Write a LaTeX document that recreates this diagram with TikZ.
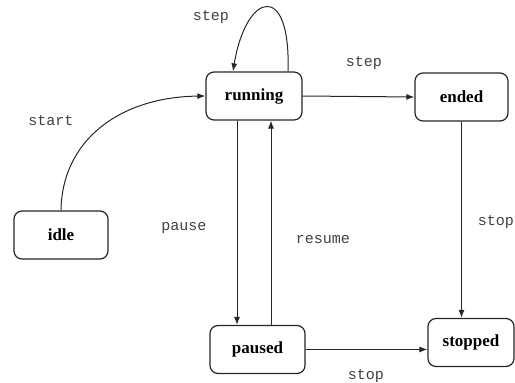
\documentclass[tikz,border=0pt]{standalone}
\usepackage{fontspec}
\setmainfont{Liberation Serif}
\setmonofont{Liberation Mono}
\usetikzlibrary{arrows.meta}
\tikzset{
  state/.style={draw=black!85, line width=1.2pt, rounded corners=8pt, fill=white,
    minimum height=48pt, inner sep=0pt, font=\fontsize{17}{20}\selectfont\bfseries},
  trans/.style={draw=black!85, line width=1pt, -{Latex[length=8pt,width=6pt]}},
  lbl/.style={font=\fontsize{15}{18}\selectfont\ttfamily, text=black!75}
}
\begin{document}
\begin{tikzpicture}[x=1pt,y=-1pt]
\useasboundingbox (0,0) rectangle (515,383);
% states
\node[state, minimum width=96pt] (running) at (254,96) {running};
\node[state, minimum width=93pt] (ended)   at (461.5,97) {ended};
\node[state, minimum width=94pt] (idle)    at (61,235) {idle};
\node[state, minimum width=95pt] (paused)  at (257.5,349.5) {paused};
\node[state, minimum width=86pt] (stopped) at (471,342.5) {stopped};
% transitions
\draw[trans] (idle.north) .. controls (62,140) and (120,97) .. (running.west);
\draw[trans] ([xshift=34pt]running.north) .. controls (291,-20) and (246,-8) .. ([xshift=-21pt]running.north);
\draw[trans] (running.east) -- (ended.west);
\draw[trans] ([xshift=-17pt]running.south) -- ([xshift=-17pt]running.south |- paused.north);
\draw[trans] ([xshift=17pt]running.south |- paused.north) -- ([xshift=17pt]running.south);
\draw[trans] (ended.south) -- (ended.south |- stopped.north);
\draw[trans] (paused.east) -- (paused.east -| stopped.west);
% labels
\node[lbl] (lstep1)  at (211,17)  {step};
\node[lbl] (lstep2)  at (364,63)  {step};
\node[lbl] (lstart)  at (51,121)  {start};
\node[lbl] (lpause)  at (184,228) {pause};
\node[lbl] (lresume) at (323,240) {resume};
\node[lbl] (lstop1)  at (496,222) {stop};
\node[lbl] (lstop2)  at (366,376) {stop};
\end{tikzpicture}
\end{document}
